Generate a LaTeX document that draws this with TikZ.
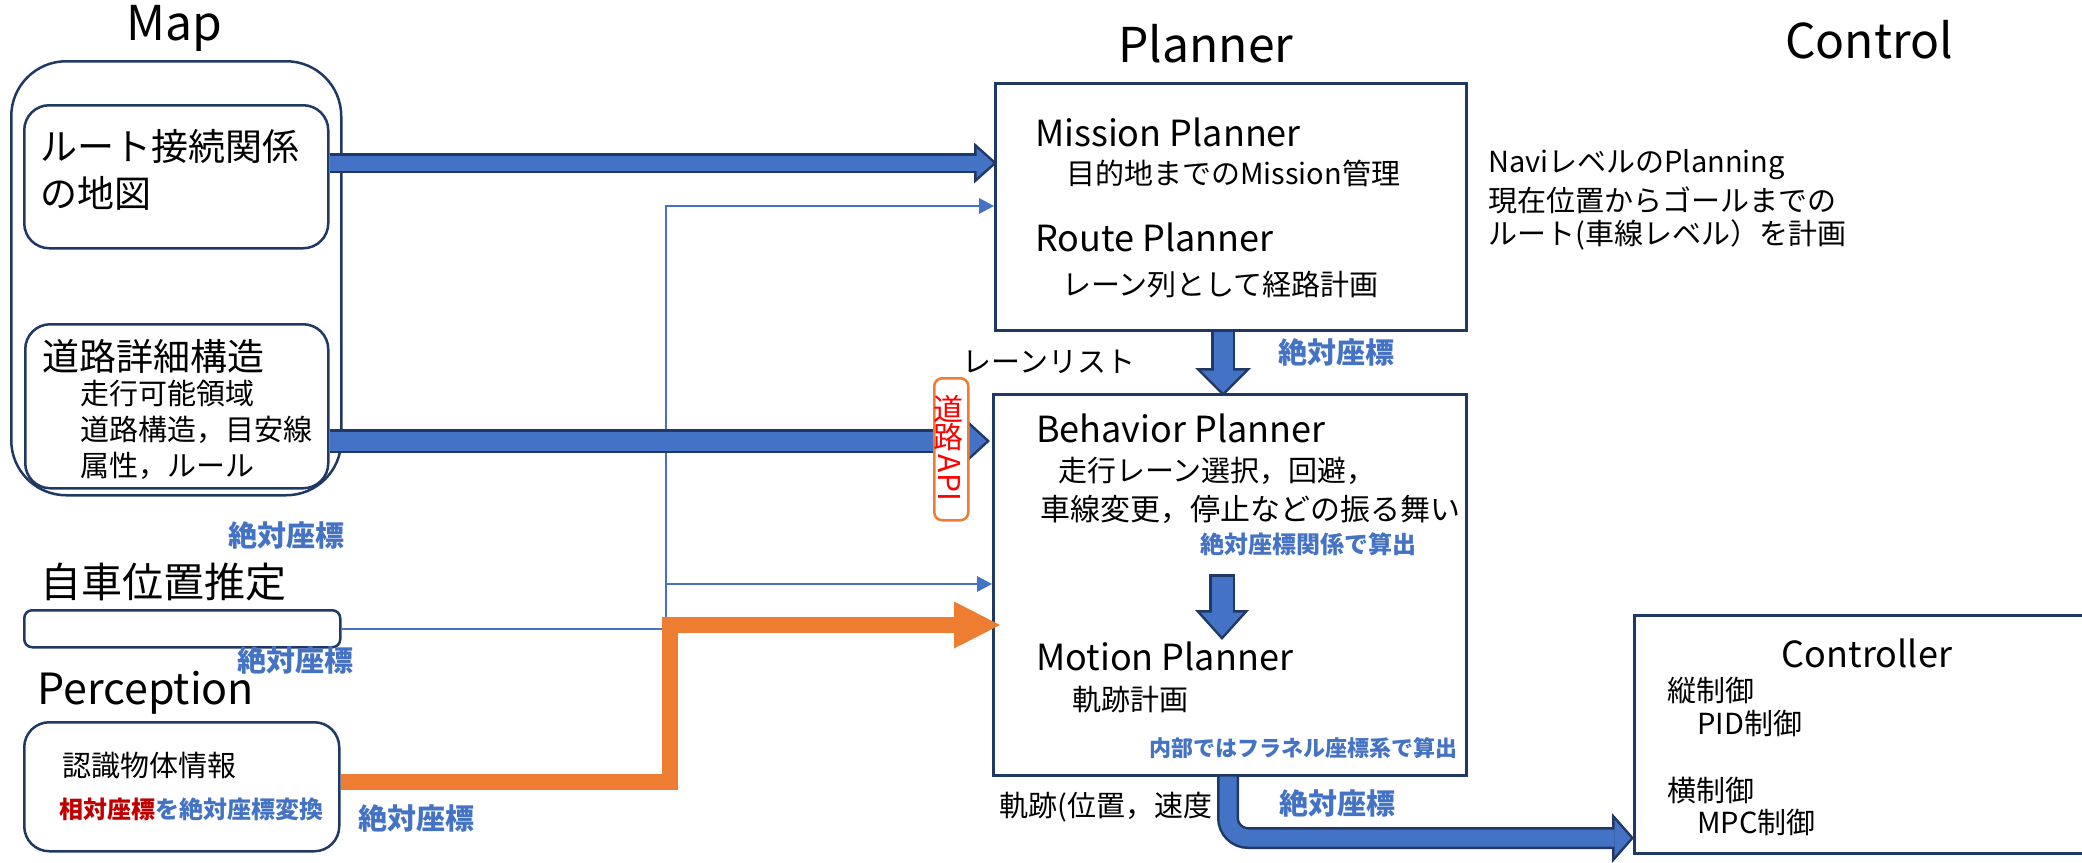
\documentclass[tikz,border=0pt]{standalone}
\usepackage{fontspec}
\setmainfont{Noto Sans CJK JP}
\usetikzlibrary{positioning,arrows.meta}
\newcommand\fsz[1]{\fontsize{#1}{#1}\selectfont}
\definecolor{accentblue}{HTML}{4472C4}
\definecolor{navyline}{HTML}{1F3864}
\definecolor{accentorange}{HTML}{ED7D31}
\definecolor{darkred}{HTML}{C00000}
\tikzset{
  panel/.style={rectangle,draw=navyline,line width=2.5pt,inner sep=0pt,fill=white,anchor=north west},
  roundpanel/.style={panel,rounded corners=#1},
  grouptitle/.style={inner sep=0pt,font=\fsz{48}},
  bigtxt/.style={inner sep=0pt,anchor=west,font=\fsz{37}},
  plantxt/.style={inner sep=0pt,anchor=west,font=\fsz{36}},
  txt/.style={inner sep=0pt,anchor=west,font=\fsz{29}},
  absnote/.style={inner sep=0pt,text=accentblue,font=\fsz{#1}\bfseries},
  absnote/.default=29,
  fatback/.style n args={3}{draw=navyline,line width=#1,line join=miter,-{Triangle[length=#2,width=#3,line width=0pt]}},
  fatfront/.style n args={4}{draw=accentblue,line width=#1,line join=miter,shorten >=#4,-{Triangle[length=#2,width=#3,line width=0pt]}},
  thinlink/.style={draw=accentblue,line width=2pt,-{Triangle[length=15pt,width=16pt,line width=0pt]}},
  orangelink/.style={draw=accentorange,line width=16pt,line join=miter,-{Triangle[length=46pt,width=47pt,line width=0pt]}}
}

\begin{document}
\begin{tikzpicture}[x=1pt,y=-1pt]
\useasboundingbox (0,0) rectangle (2082,862);

% map side
\node[grouptitle] (maptitle) at (174,28) {Map};
\node[roundpanel=55pt,minimum width=330pt,minimum height=434pt] (map) at (10,60) {};
\node[roundpanel=25pt,minimum width=304pt,minimum height=143pt] (box1) at (23,104) {};
\node[roundpanel=25pt,minimum width=303pt,minimum height=164pt] (box2) at (24,323) {};
\node[bigtxt] (routeA) at (40,146) {ルート接続関係};
\node[bigtxt] (routeB) at (40,193) {の地図};
\node[bigtxt] (roadA) at (42,356) {道路詳細構造};
\node[txt] (roadB) at (80,394) {走行可能領域};
\node[txt] (roadC) at (80,430) {道路構造，目安線};
\node[txt] (roadD) at (80,466) {属性，ルール};
\node[absnote] (absmap) at (286,535) {絶対座標};

\node[inner sep=0pt,anchor=west,font=\fsz{41}] (selftitle) at (40,582) {自車位置推定};
\node[roundpanel=8pt,minimum width=316pt,minimum height=37pt] (selfpos) at (23,609) {};
\node[absnote] (absself) at (295,660) {絶対座標};

\node[inner sep=0pt,anchor=west,font=\fsz{43}] (perctitle) at (37,693) {Perception};
\node[roundpanel=25pt,minimum width=315pt,minimum height=129pt] (perc) at (23,721) {};
\node[txt] (percA) at (62,766) {認識物体情報};
\node[absnote=24,anchor=west] (percB) at (59,809) {{\color{darkred}相対座標}を絶対座標変換};
\node[absnote] (absperc) at (416,818) {絶対座標};

% planner side
\node[grouptitle] (plantitle) at (1206,44) {Planner};
\node[grouptitle] (ctrltitle) at (1869,40) {Control};
\node[panel,minimum width=471pt,minimum height=247pt] (plan1) at (994,82) {};
\node[plantxt] (mission) at (1035,132) {Mission Planner};
\node[txt] (missionA) at (1066,173) {目的地までのMission管理};
\node[plantxt] (route) at (1035,237) {Route Planner};
\node[txt] (routeC) at (1062,285) {レーン列として経路計画};
\node[absnote] (absplan) at (1336,352) {絶対座標};
\node[txt,anchor=center] (lanelist) at (1049,362) {レーンリスト};

\node[panel,minimum width=473pt,minimum height=381pt] (plan2) at (992,393) {};
\node[plantxt] (behav) at (1036,428) {Behavior Planner};
\node[txt] (behavA) at (1058,471) {走行レーン選択，回避，};
\node[txt,font=\fsz{30}] (behavB) at (1040,509) {車線変更，停止などの振る舞い};
\node[absnote=24] (absbehav) at (1308,544) {絶対座標関係で算出};
\node[plantxt] (motion) at (1036,656) {Motion Planner};
\node[txt] (motionA) at (1072,700) {軌跡計画};
\node[absnote=22] (absmotion) at (1303,748) {内部ではフラネル座標系で算出};
\node[txt] (traj) at (999,807) {軌跡(位置，速度};
\node[absnote] (abstraj) at (1337,803) {絶対座標};

\node[txt] (naviA) at (1488,165) {NaviレベルのPlanning};
\node[txt] (naviB) at (1488,200) {現在位置からゴールまでの};
\node[txt] (naviC) at (1488,235) {ルート(車線レベル）を計画};

% controller
\node[panel,minimum width=470pt,minimum height=238pt] (ctrl) at (1633,614) {};
\node[inner sep=0pt,font=\fsz{36}] (ctrlname) at (1867,653) {Controller};
\node[txt] (lonA) at (1667,690) {縦制御};
\node[txt] (lonB) at (1697,723) {PID制御};
\node[txt] (latA) at (1667,790) {横制御};
\node[txt] (latB) at (1697,822) {MPC制御};

% connectors
\coordinate (a1) at (997,163);
\coordinate (a2) at (990,441);
\coordinate (a3) at (1223,396);
\coordinate (a4top) at (1222,574);
\coordinate (a4) at (1222,640);
\coordinate (bend) at (1228,838);
\coordinate (a5) at (1634,838);
\coordinate (tapA) at (666,206);
\coordinate (tapB) at (666,584);
\coordinate (orJog) at (670,625);
\coordinate (orTip) at (1000,625);

\draw[thinlink] (selfpos.east) -| (tapA) -- (tapA -| plan1.west);
\draw[thinlink] (tapB) -- (tapB -| plan2.west);

\draw[fatback={20pt}{23pt}{41pt}] (box1.east |- a1) -- (a1);
\draw[fatfront={15pt}{16.7pt}{29.8pt}{3.8pt}] (box1.east |- a1) -- (a1);
\draw[fatback={24pt}{24pt}{44pt}] (box2.east |- a2) -- (a2);
\draw[fatfront={19pt}{17.8pt}{32.6pt}{3.7pt}] (box2.east |- a2) -- (a2);
\draw[fatback={24pt}{28pt}{56pt}] (plan1.south -| a3) -- (a3);
\draw[fatfront={19pt}{22pt}{44pt}{3.5pt}] (plan1.south -| a3) -- (a3);
\draw[fatback={26pt}{30pt}{54pt}] (a4top) -- (a4);
\draw[fatfront={21pt}{23.8pt}{42.8pt}{3.7pt},shorten <=2.5pt] (a4top) -- (a4);
\draw[fatback={22pt}{22pt}{50pt},rounded corners=20pt] (plan2.south -| bend) -- (bend) -- (a5);
\draw[fatfront={17pt}{16.2pt}{36.8pt}{3.3pt},rounded corners=20pt] (plan2.south -| bend) -- (bend) -- (a5);

\draw[orangelink] ([yshift=5pt]perc.east) -| (orJog) -- (orTip);

% road api tag
\node[rectangle,draw=accentorange,line width=2.5pt,fill=white,rounded corners=8pt,inner sep=0pt,
  minimum width=34pt,minimum height=142pt,anchor=north west] (roadapi) at (933,377) {};
\node[inner sep=0pt,text=red,font=\fsz{30}] (apiA) at (948,409) {道};
\node[inner sep=0pt,text=red,font=\fsz{30}] (apiB) at (948,437) {路};
\node[inner sep=0pt,text=red,font=\fsz{30},rotate=-90] (apiC) at (949,478) {API};
\end{tikzpicture}
\end{document}
